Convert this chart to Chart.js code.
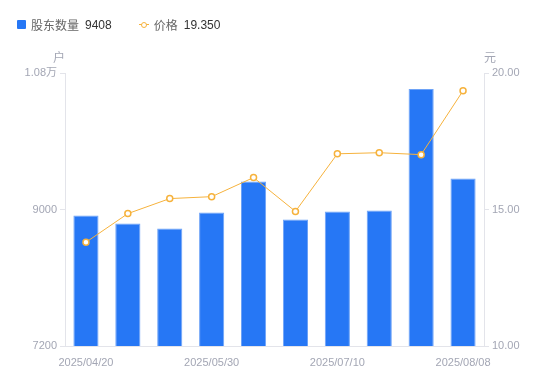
<!DOCTYPE html>
<html>
<head>
<meta charset="utf-8">
<script src="https://cdn.jsdelivr.net/npm/chart.js@4"></script>
<style>
  html, body { margin: 0; padding: 0; background: #fff; }
  #wrap { position: relative; width: 550px; height: 381px; }
  #legend { position: absolute; left: 17px; top: 16px; font: 12px "Liberation Sans", "Noto Sans CJK SC", sans-serif; color: #666; display: flex; align-items: center; }
  .item { display: flex; align-items: center; margin-right: 27px; }
  .sq { width: 9px; height: 9px; background: #2677f5; border-radius: 1px; margin-right: 5px; }
  .ln { position: relative; width: 10px; height: 10px; margin-right: 5px; }
  .ln:before { content: ''; position: absolute; left: 0; right: 0; top: 4.5px; height: 1px; background: #f6b23c; }
  .ln:after { content: ''; position: absolute; left: 2px; top: 2px; width: 4px; height: 4px; border: 1.5px solid #f6b23c; border-radius: 50%; background: #fff; }
  .val { color: #333; margin-left: 6px; }
</style>
</head>
<body>
<div id="wrap">
  <div id="legend">
    <div class="item"><span class="sq"></span>股东数量<span class="val">9408</span></div>
    <div class="item"><span class="ln"></span>价格<span class="val">19.350</span></div>
  </div>
  <canvas id="chart" width="550" height="381"></canvas>
</div>
<script>
// 数据
const dates = ['2025/04/20', '2025/04/30', '2025/05/10', '2025/05/30', '2025/06/10',
               '2025/06/20', '2025/07/10', '2025/07/20', '2025/07/31', '2025/08/08'];
const holders = [8921, 8816, 8750, 8960, 9368, 8868, 8974, 8987, 10590, 9408];
const prices = [13.80, 14.85, 15.40, 15.47, 16.17, 14.93, 17.04, 17.08, 17.01, 19.35];
const leftTicks = [7200, 9000, 10800];
const rightTicks = [10, 15, 20];

const tickColor = '#a3a6b4';
const lineColor = '#e3e4ea';

// 轴标题 户 / 元
const unitTitles = {
    id: 'unitTitles',
    afterDraw(chart) {
        const c = chart.ctx;
        const a = chart.chartArea;
        c.save();
        c.fillStyle = tickColor;
        c.font = '12px "Noto Sans CJK SC", sans-serif';
        c.textBaseline = 'middle';
        c.textAlign = 'center';
        c.fillText('户', a.left - 6, a.top - 16);
        c.fillText('元', a.right + 6, a.top - 16);
        c.restore();
    }
};

const ctx = document.getElementById('chart').getContext('2d');
const chart = new Chart(ctx, {
    data: {
        labels: dates,
        datasets: [
            {
                type: 'line',
                label: '价格',
                data: prices,
                yAxisID: 'y1',
                borderColor: '#f6b23c',
                borderWidth: 1,
                pointRadius: 3,
                pointBorderWidth: 1.5,
                pointBackgroundColor: '#fff',
                pointBorderColor: '#f6b23c',
                tension: 0
            },
            {
                type: 'bar',
                label: '股东数量',
                data: holders,
                yAxisID: 'y',
                backgroundColor: '#2677f5',
                borderColor: '#6ea3f7',
                borderWidth: 1,
                categoryPercentage: 1,
                barPercentage: 0.6
            }
        ]
    },
    options: {
        responsive: false,
        animation: false,
        layout: { padding: { top: 73, left: 0, right: 0, bottom: 0 } },
        plugins: {
            legend: { display: false },
            tooltip: { enabled: false }
        },
        scales: {
            x: {
                afterFit: s => { s.height = 35; },
                grid: { display: false },
                border: { color: lineColor },
                ticks: {
                    color: tickColor,
                    font: { size: 11, family: '"Liberation Sans", sans-serif' },
                    autoSkip: false,
                    maxRotation: 0,
                    padding: 2,
                    callback: (v, i) => i % 3 === 0 ? dates[i] : ''
                }
            },
            y: {
                position: 'left',
                min: leftTicks[0],
                max: leftTicks[leftTicks.length - 1],
                afterFit: s => { s.width = 65; },
                afterBuildTicks: s => { s.ticks = leftTicks.map(v => ({ value: v })); },
                grid: { drawOnChartArea: false, tickLength: 5, color: lineColor },
                border: { color: lineColor },
                ticks: {
                    color: tickColor,
                    font: { size: 11, family: '"Liberation Sans", "Noto Sans CJK SC", sans-serif' },
                    padding: 3,
                    callback: v => v >= 10000 ? (v / 10000).toFixed(2) + '万' : String(v)
                }
            },
            y1: {
                position: 'right',
                min: rightTicks[0],
                max: rightTicks[rightTicks.length - 1],
                afterFit: s => { s.width = 66; },
                afterBuildTicks: s => { s.ticks = rightTicks.map(v => ({ value: v })); },
                grid: { drawOnChartArea: false, tickLength: 5, color: lineColor },
                border: { color: lineColor },
                ticks: {
                    color: tickColor,
                    font: { size: 11, family: '"Liberation Sans", sans-serif' },
                    padding: 3,
                    callback: v => Number(v).toFixed(2)
                }
            }
        }
    },
    plugins: [unitTitles]
});
</script>
</body>
</html>
